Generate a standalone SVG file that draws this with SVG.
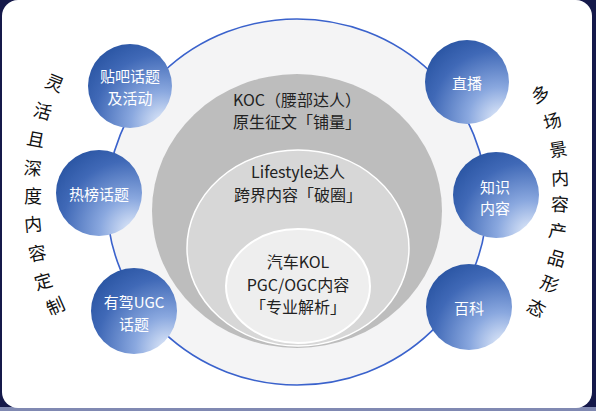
<svg xmlns="http://www.w3.org/2000/svg" width="596" height="411" viewBox="0 0 596 411">
<style>
.ctr{font-family:"Noto Sans CJK SC","Noto Sans",sans-serif;font-size:16px;fill:#222;text-anchor:middle;dominant-baseline:central}
.nd{font-family:"Noto Sans CJK SC","Noto Sans",sans-serif;font-size:15px;fill:#fff;text-anchor:middle;dominant-baseline:central}
.side{font-family:"Noto Sans CJK SC",sans-serif;font-size:18px;fill:#111;text-anchor:middle;dominant-baseline:central}
.ball{fill:url(#bg)}
</style>
<defs>
<radialGradient id="bg" cx="0.85" cy="0.9" r="1.05" fx="0.9" fy="0.95">
<stop offset="0" stop-color="#e6eefb"/>
<stop offset="0.35" stop-color="#8aa8df"/>
<stop offset="0.75" stop-color="#4069b7"/>
<stop offset="1" stop-color="#2a55a3"/>
</radialGradient>
</defs>
<rect x="0" y="0" width="596" height="411" fill="#15194a"/>
<rect x="0" y="407" width="596" height="4" fill="#8089b2"/>
<rect x="2" y="0" width="590" height="408" rx="16" fill="#ffffff"/>

<g id="ring">
<ellipse cx="297" cy="202" rx="190" ry="183" fill="#f4f4f5" stroke="#3a62cc" stroke-width="1.6"/>
</g>

<g id="koc">
<ellipse cx="297" cy="211" rx="145" ry="137" fill="#bdbdbd"/>
<text class="ctr" x="297" y="99">KOC（腰部达人）</text>
<text class="ctr" x="297" y="121">原生征文「铺量」</text>
</g>
<g id="lifestyle">
<ellipse cx="298" cy="248" rx="111" ry="98" fill="#d7d7d7" stroke="#ffffff" stroke-width="1.5"/>
<text class="ctr" x="298" y="171">Lifestyle达人</text>
<text class="ctr" x="298" y="194">跨界内容「破圈」</text>
</g>
<g id="kol">
<ellipse cx="298" cy="286" rx="72" ry="57" fill="#eeeeee" stroke="#ffffff" stroke-width="2"/>
<text class="ctr" x="298" y="261">汽车KOL</text>
<text class="ctr" x="298" y="284">PGC/OGC内容</text>
<text class="ctr" x="298" y="306">「专业解析」</text>
</g>

<g id="tieba">
<circle class="ball" cx="130" cy="86" r="42"/>
<text class="nd" x="130" y="75">贴吧话题</text>
<text class="nd" x="130" y="97">及活动</text>
</g>
<g id="rebang">
<circle class="ball" cx="99" cy="193" r="43"/>
<text class="nd" x="99" y="193">热榜话题</text>
</g>
<g id="youjia">
<circle class="ball" cx="134" cy="311" r="43"/>
<text class="nd" x="134" y="301">有驾UGC</text>
<text class="nd" x="134" y="323">话题</text>
</g>
<g id="zhibo">
<circle class="ball" cx="467" cy="82" r="42"/>
<text class="nd" x="467" y="82">直播</text>
</g>
<g id="zhishi">
<circle class="ball" cx="496" cy="195" r="43"/>
<text class="nd" x="495" y="186">知识</text>
<text class="nd" x="495" y="207">内容</text>
</g>
<g id="baike">
<circle class="ball" cx="469" cy="307" r="43"/>
<text class="nd" x="469" y="307">百科</text>
</g>

<g id="left-label">
<text class="side" transform="translate(55,82) rotate(22)">灵</text>
<text class="side" transform="translate(43,110) rotate(16)">活</text>
<text class="side" transform="translate(36,138) rotate(11)">且</text>
<text class="side" transform="translate(33,167) rotate(5)">深</text>
<text class="side" transform="translate(33,195) rotate(0)">度</text>
<text class="side" transform="translate(33,223) rotate(-5)">内</text>
<text class="side" transform="translate(37,252) rotate(-11)">容</text>
<text class="side" transform="translate(43,280) rotate(-16)">定</text>
<text class="side" transform="translate(55,305) rotate(-24)">制</text>
</g>
<g id="right-label">
<text class="side" transform="translate(540,93) rotate(-23)">多</text>
<text class="side" transform="translate(552,120) rotate(-17)">场</text>
<text class="side" transform="translate(558,148) rotate(-10)">景</text>
<text class="side" transform="translate(560,177) rotate(-3)">内</text>
<text class="side" transform="translate(560,203) rotate(3)">容</text>
<text class="side" transform="translate(558,230) rotate(9)">产</text>
<text class="side" transform="translate(557,257) rotate(16)">品</text>
<text class="side" transform="translate(550,283) rotate(22)">形</text>
<text class="side" transform="translate(537,307) rotate(28)">态</text>
</g>
</svg>
